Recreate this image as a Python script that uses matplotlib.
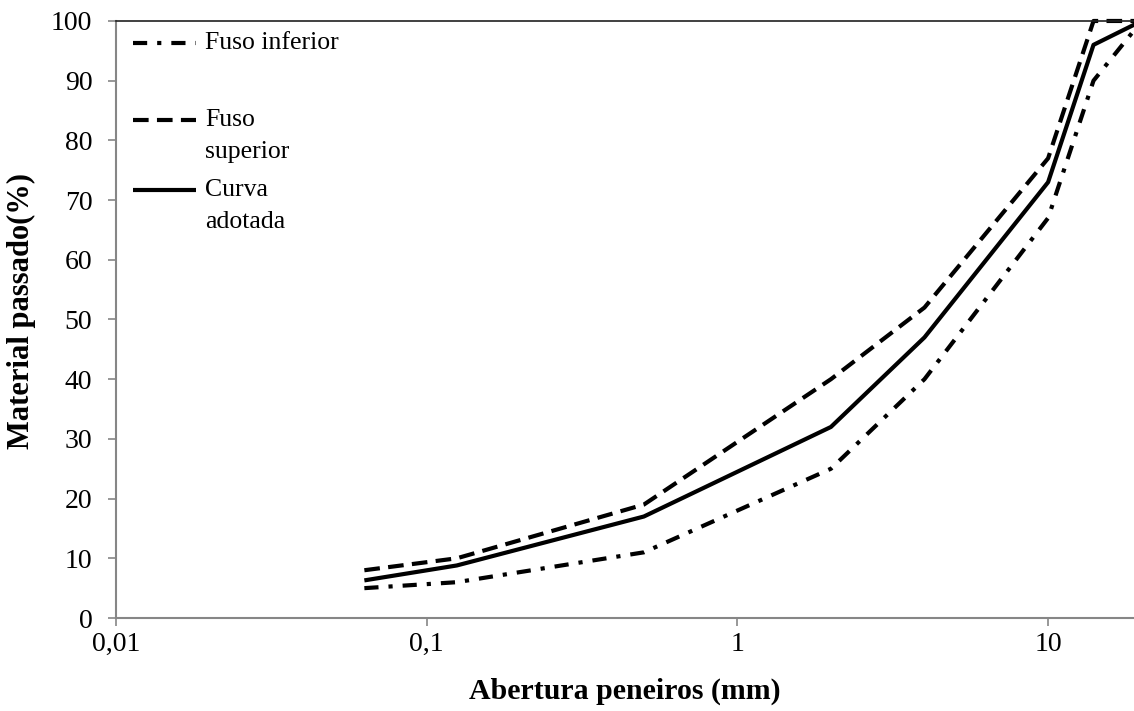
import matplotlib.pyplot as plt
from matplotlib.ticker import FixedLocator, FixedFormatter, NullLocator

# Granulometria: aberturas das peneiras (mm) e % passante
peneiras = [0.063, 0.125, 0.5, 2, 4, 10, 14, 20]
fuso_inferior = [5, 6, 11, 25, 40, 67, 90, 100]
fuso_superior = [8, 10, 19, 40, 52, 77, 100, 100]
curva_adotada = [6.3, 8.8, 17, 32, 47, 73, 96, 100]

x_ticks = [0.01, 0.1, 1, 10]
x_tick_labels = ["0,01", "0,1", "1", "10"]
y_ticks = list(range(0, 101, 10))

plt.rcParams['font.family'] = ['Liberation Serif', 'DejaVu Serif']

fig = plt.figure(figsize=(11.34, 7.11), dpi=100)
ax = fig.add_axes([0.1023, 0.1308, 0.8977, 0.8397])

lw = 3.0
series = [
    ("Fuso inferior", fuso_inferior, (3.4, 2.4, 1.0, 2.4)),
    ("Fuso\nsuperior", fuso_superior, (3.75, 2.0)),
    ("Curva\nadotada", curva_adotada, None),
]
for label, valores, dashes in series:
    line, = ax.plot(peneiras, valores, color='black', lw=lw,
                    solid_capstyle='butt', dash_capstyle='butt', clip_on=False)
    if dashes:
        line.set_dashes(dashes)

ax.set_xscale('log')
ax.set_xlim(0.01, 18.9)
ax.set_ylim(0, 100)

ax.xaxis.set_major_locator(FixedLocator(x_ticks))
ax.xaxis.set_major_formatter(FixedFormatter(x_tick_labels))
ax.xaxis.set_minor_locator(NullLocator())
ax.set_yticks(y_ticks)

gray = '#868686'
for side in ['left', 'bottom']:
    ax.spines[side].set_color(gray)
    ax.spines[side].set_linewidth(1.5)
ax.spines['top'].set_color('#202020')
ax.spines['top'].set_linewidth(1.2)
ax.spines['right'].set_visible(False)

ax.tick_params(axis='y', direction='out', length=6, width=1.2, color=gray,
               labelsize=20, pad=11)
ax.tick_params(axis='x', direction='out', length=6, width=1.2, color=gray,
               labelsize=20, pad=4)

ax.set_xlabel("Abertura peneiros (mm)", fontsize=21.5, fontweight='bold', labelpad=15)
ax.set_ylabel("Material passado(%)", fontsize=22, fontweight='bold')
ax.yaxis.set_label_coords(-0.079, 0.515)

# legenda desenhada à mão: amostra alinhada com a primeira linha do texto
legenda = [
    (0.963, ["Fuso inferior"], (3.4, 2.4, 1.0, 2.4)),
    (0.834, ["Fuso", "superior"], (3.75, 2.0)),
    (0.717, ["Curva", "adotada"], None),
]
for y0, linhas, dashes in legenda:
    h, = ax.plot([0.0167, 0.0786], [y0, y0], transform=ax.transAxes,
                 color='black', lw=lw, solid_capstyle='butt', dash_capstyle='butt')
    if dashes:
        h.set_dashes(dashes)
    for i, txt in enumerate(linhas):
        ax.text(0.0874, y0 - i * 0.053, txt, transform=ax.transAxes,
                fontsize=18.5, va='center', ha='left')

fig.savefig("out.png", dpi=100)
